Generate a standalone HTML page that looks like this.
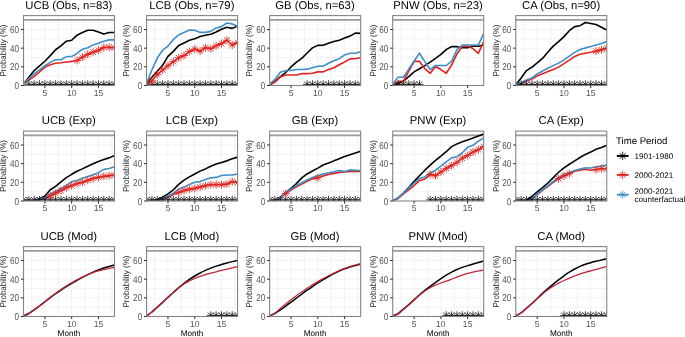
<!DOCTYPE html><html><head><meta charset="utf-8"><style>html,body{margin:0;padding:0;background:#fff;width:685px;height:337px;overflow:hidden}svg{display:block;will-change:transform;text-rendering:geometricPrecision}</style></head><body>
<svg width="685" height="337" viewBox="0 0 685 337" font-family="'Liberation Sans', sans-serif">
<rect width="685" height="337" fill="#fff"/>
<defs>
<clipPath id="c00"><rect x="23.5" y="15.6" width="91" height="69.9"/></clipPath>
<clipPath id="c01"><rect x="146.57" y="15.6" width="91" height="69.9"/></clipPath>
<clipPath id="c02"><rect x="269.64" y="15.6" width="91" height="69.9"/></clipPath>
<clipPath id="c03"><rect x="392.71" y="15.6" width="91" height="69.9"/></clipPath>
<clipPath id="c04"><rect x="515.78" y="15.6" width="91" height="69.9"/></clipPath>
<clipPath id="c10"><rect x="23.5" y="131.1" width="91" height="69.9"/></clipPath>
<clipPath id="c11"><rect x="146.57" y="131.1" width="91" height="69.9"/></clipPath>
<clipPath id="c12"><rect x="269.64" y="131.1" width="91" height="69.9"/></clipPath>
<clipPath id="c13"><rect x="392.71" y="131.1" width="91" height="69.9"/></clipPath>
<clipPath id="c14"><rect x="515.78" y="131.1" width="91" height="69.9"/></clipPath>
<clipPath id="c20"><rect x="23.5" y="246.6" width="91" height="69.9"/></clipPath>
<clipPath id="c21"><rect x="146.57" y="246.6" width="91" height="69.9"/></clipPath>
<clipPath id="c22"><rect x="269.64" y="246.6" width="91" height="69.9"/></clipPath>
<clipPath id="c23"><rect x="392.71" y="246.6" width="91" height="69.9"/></clipPath>
<clipPath id="c24"><rect x="515.78" y="246.6" width="91" height="69.9"/></clipPath>
</defs>
<path d="M23.5 76.17H114.5M23.5 66.83H114.5M23.5 57.5H114.5M23.5 48.17H114.5M23.5 38.84H114.5M23.5 29.5H114.5M23.5 20.17H114.5M31.53 15.6V85.5M44.91 15.6V85.5M58.29 15.6V85.5M71.68 15.6V85.5M85.06 15.6V85.5M98.44 15.6V85.5M111.82 15.6V85.5" stroke="#ebebeb" stroke-width="0.6" fill="none"/>
<path d="M23.5 19.95H114.5" stroke="#9c9c9c" stroke-width="1.8" fill="none"/>
<g clip-path="url(#c00)" fill="none" stroke-linejoin="round" stroke-linecap="butt">
<path d="M23.5 84.1 L28.85 77.29 L34.21 70.57 L39.56 65.9 L44.91 61.23 L50.26 55.63 L55.62 49.75 L60.97 45.83 L66.32 41.17 L71.68 40.23 L77.03 35.2 L82.38 32.49 L87.74 30.25 L93.09 30.25 L98.44 32.02 L103.79 34.08 L109.15 32.49 L114.5 32.49" stroke="#000000" stroke-width="1.6"/>
<path d="M23.5 84.1 L28.85 79.99 L34.21 76.35 L39.56 71.87 L44.91 67.11 L50.26 64.69 L55.62 63.29 L60.97 62.73 L66.32 61.98 L71.68 61.42 L77.03 60.49 L82.38 57.13 L87.74 54.33 L93.09 52.18 L98.44 50.22 L103.79 47.51 L109.15 47.23 L114.5 47.79" stroke="#e2231f" stroke-width="1.6"/>
<path d="M23.5 83.45 L28.85 78.69 L34.21 73.93 L39.56 69.82 L44.91 65.71 L50.26 62.35 L55.62 59.74 L60.97 59.74 L66.32 56.57 L71.68 56.57 L77.03 53.49 L82.38 49.29 L87.74 47.79 L93.09 44.9 L98.44 43.31 L103.79 41.17 L109.15 39.86 L114.5 39.86" stroke="#3f8ec8" stroke-width="1.6"/>
<path d="M24.75 84.4L32.95 84.4M28.85 80.3L28.85 88.5M25.95 81.5L31.75 87.3M25.95 87.3L31.75 81.5M30.11 84.4L38.31 84.4M34.21 80.3L34.21 88.5M31.31 81.5L37.11 87.3M31.31 87.3L37.11 81.5M35.46 84.4L43.66 84.4M39.56 80.3L39.56 88.5M36.66 81.5L42.46 87.3M36.66 87.3L42.46 81.5M40.81 84.4L49.01 84.4M44.91 80.3L44.91 88.5M42.01 81.5L47.81 87.3M42.01 87.3L47.81 81.5M46.16 84.4L54.36 84.4M50.26 80.3L50.26 88.5M47.37 81.5L53.16 87.3M47.37 87.3L53.16 81.5M51.52 84.4L59.72 84.4M55.62 80.3L55.62 88.5M52.72 81.5L58.52 87.3M52.72 87.3L58.52 81.5M56.87 84.4L65.07 84.4M60.97 80.3L60.97 88.5M58.07 81.5L63.87 87.3M58.07 87.3L63.87 81.5M62.22 84.4L70.42 84.4M66.32 80.3L66.32 88.5M63.42 81.5L69.22 87.3M63.42 87.3L69.22 81.5M67.58 84.4L75.78 84.4M71.68 80.3L71.68 88.5M68.78 81.5L74.58 87.3M68.78 87.3L74.58 81.5M72.93 84.4L81.13 84.4M77.03 80.3L77.03 88.5M74.13 81.5L79.93 87.3M74.13 87.3L79.93 81.5M78.28 84.4L86.48 84.4M82.38 80.3L82.38 88.5M79.48 81.5L85.28 87.3M79.48 87.3L85.28 81.5M83.64 84.4L91.84 84.4M87.74 80.3L87.74 88.5M84.84 81.5L90.63 87.3M84.84 87.3L90.63 81.5M88.99 84.4L97.19 84.4M93.09 80.3L93.09 88.5M90.19 81.5L95.99 87.3M90.19 87.3L95.99 81.5M94.34 84.4L102.54 84.4M98.44 80.3L98.44 88.5M95.54 81.5L101.34 87.3M95.54 87.3L101.34 81.5M99.69 84.4L107.89 84.4M103.79 80.3L103.79 88.5M100.89 81.5L106.69 87.3M100.89 87.3L106.69 81.5M105.05 84.4L113.25 84.4M109.15 80.3L109.15 88.5M106.25 81.5L112.05 87.3M106.25 87.3L112.05 81.5M110.4 84.4L118.6 84.4M114.5 80.3L114.5 88.5M111.6 81.5L117.4 87.3M111.6 87.3L117.4 81.5" stroke="#000" stroke-width="0.75" stroke-opacity="1"/>
<path d="M73.03 60.49L81.03 60.49M77.03 56.49L77.03 64.49M74.2 57.66L79.86 63.32M74.2 63.32L79.86 57.66M78.38 57.13L86.38 57.13M82.38 53.13L82.38 61.13M79.55 54.3L85.21 59.96M79.55 59.96L85.21 54.3M83.74 54.33L91.74 54.33M87.74 50.33L87.74 58.33M84.91 51.5L90.56 57.16M84.91 57.16L90.56 51.5M89.09 52.18L97.09 52.18M93.09 48.18L93.09 56.18M90.26 49.35L95.92 55.01M90.26 55.01L95.92 49.35M94.44 50.22L102.44 50.22M98.44 46.22L98.44 54.22M95.61 47.39L101.27 53.05M95.61 53.05L101.27 47.39M99.79 47.51L107.79 47.51M103.79 43.51L103.79 51.51M100.97 44.69L106.62 50.34M100.97 50.34L106.62 44.69M105.15 47.23L113.15 47.23M109.15 43.23L109.15 51.23M106.32 44.41L111.98 50.06M106.32 50.06L111.98 44.41M110.5 47.79L118.5 47.79M114.5 43.79L114.5 51.79M111.67 44.97L117.33 50.62M111.67 50.62L117.33 44.97" stroke="#e2231f" stroke-width="0.9" stroke-opacity="0.95"/>
</g>
<rect x="23.5" y="15.6" width="91" height="69.9" fill="none" stroke="#858585" stroke-width="1.1"/>
<text transform="translate(19.1 89.15) scale(0.95 1.15)" font-size="8.6" fill="#555555" text-anchor="end">0</text>
<text transform="translate(19.1 70.48) scale(0.95 1.15)" font-size="8.6" fill="#555555" text-anchor="end">20</text>
<text transform="translate(19.1 51.82) scale(0.95 1.15)" font-size="8.6" fill="#555555" text-anchor="end">40</text>
<text transform="translate(19.1 33.15) scale(0.95 1.15)" font-size="8.6" fill="#555555" text-anchor="end">60</text>
<text x="44.91" y="95.9" font-size="8.6" fill="#555555" text-anchor="middle">5</text>
<text x="71.68" y="95.9" font-size="8.6" fill="#555555" text-anchor="middle">10</text>
<text x="98.44" y="95.9" font-size="8.6" fill="#555555" text-anchor="middle">15</text>
<path d="M20.9 85.5H23.5M20.9 66.83H23.5M20.9 48.17H23.5M20.9 29.5H23.5M44.91 85.5V88.1M71.68 85.5V88.1M98.44 85.5V88.1" stroke="#2b2b2b" stroke-width="1" fill="none"/>
<text transform="translate(6.3 50.55) rotate(-90) scale(0.94 1)" font-size="8.5" fill="#1a1a1a" text-anchor="middle">Probability (%)</text>
<text x="68.8" y="8.6" font-size="11.3" fill="#000" text-anchor="middle">UCB (Obs, n=83)</text>
<path d="M146.57 76.17H237.57M146.57 66.83H237.57M146.57 57.5H237.57M146.57 48.17H237.57M146.57 38.84H237.57M146.57 29.5H237.57M146.57 20.17H237.57M154.6 15.6V85.5M167.98 15.6V85.5M181.36 15.6V85.5M194.75 15.6V85.5M208.13 15.6V85.5M221.51 15.6V85.5M234.89 15.6V85.5" stroke="#ebebeb" stroke-width="0.6" fill="none"/>
<path d="M146.57 19.95H237.57" stroke="#9c9c9c" stroke-width="1.8" fill="none"/>
<g clip-path="url(#c01)" fill="none" stroke-linejoin="round" stroke-linecap="butt">
<path d="M146.57 84.1 L151.92 77.29 L157.28 71.31 L162.63 65.15 L167.98 56.38 L173.33 51.34 L178.69 45.55 L184.04 42.94 L189.39 40.23 L194.75 38.84 L200.1 36.6 L205.45 35.2 L210.81 34.17 L216.16 32.02 L221.51 29.32 L226.86 27.26 L232.22 28.38 L237.57 25.96" stroke="#000000" stroke-width="1.6"/>
<path d="M146.57 84.85 L151.92 80.74 L157.28 74.58 L162.63 69.82 L167.98 65.71 L173.33 61.7 L178.69 57.78 L184.04 55.54 L189.39 51.53 L194.75 49.1 L200.1 51.15 L205.45 47.79 L210.81 48.73 L216.16 45.83 L221.51 43.59 L226.86 40.23 L232.22 44.99 L237.57 42.57" stroke="#e2231f" stroke-width="1.6"/>
<path d="M146.57 83.45 L151.92 69.82 L157.28 58.06 L162.63 50.22 L167.98 46.11 L173.33 39.49 L178.69 34.82 L184.04 32.4 L189.39 29.97 L194.75 30.25 L200.1 32.4 L205.45 32.4 L210.81 31.37 L216.16 27.92 L221.51 26.61 L226.86 22.97 L232.22 23.9 L237.57 26.24" stroke="#3f8ec8" stroke-width="1.6"/>
<path d="M147.82 84.4L156.02 84.4M151.92 80.3L151.92 88.5M149.02 81.5L154.82 87.3M149.02 87.3L154.82 81.5M153.18 84.4L161.38 84.4M157.28 80.3L157.28 88.5M154.38 81.5L160.18 87.3M154.38 87.3L160.18 81.5M158.53 84.4L166.73 84.4M162.63 80.3L162.63 88.5M159.73 81.5L165.53 87.3M159.73 87.3L165.53 81.5M163.88 84.4L172.08 84.4M167.98 80.3L167.98 88.5M165.08 81.5L170.88 87.3M165.08 87.3L170.88 81.5M169.23 84.4L177.43 84.4M173.33 80.3L173.33 88.5M170.44 81.5L176.23 87.3M170.44 87.3L176.23 81.5M174.59 84.4L182.79 84.4M178.69 80.3L178.69 88.5M175.79 81.5L181.59 87.3M175.79 87.3L181.59 81.5M179.94 84.4L188.14 84.4M184.04 80.3L184.04 88.5M181.14 81.5L186.94 87.3M181.14 87.3L186.94 81.5M185.29 84.4L193.49 84.4M189.39 80.3L189.39 88.5M186.49 81.5L192.29 87.3M186.49 87.3L192.29 81.5M190.65 84.4L198.85 84.4M194.75 80.3L194.75 88.5M191.85 81.5L197.65 87.3M191.85 87.3L197.65 81.5M196 84.4L204.2 84.4M200.1 80.3L200.1 88.5M197.2 81.5L203 87.3M197.2 87.3L203 81.5M201.35 84.4L209.55 84.4M205.45 80.3L205.45 88.5M202.55 81.5L208.35 87.3M202.55 87.3L208.35 81.5M206.71 84.4L214.91 84.4M210.81 80.3L210.81 88.5M207.91 81.5L213.7 87.3M207.91 87.3L213.7 81.5M212.06 84.4L220.26 84.4M216.16 80.3L216.16 88.5M213.26 81.5L219.06 87.3M213.26 87.3L219.06 81.5M217.41 84.4L225.61 84.4M221.51 80.3L221.51 88.5M218.61 81.5L224.41 87.3M218.61 87.3L224.41 81.5M222.76 84.4L230.96 84.4M226.86 80.3L226.86 88.5M223.96 81.5L229.76 87.3M223.96 87.3L229.76 81.5M228.12 84.4L236.32 84.4M232.22 80.3L232.22 88.5M229.32 81.5L235.12 87.3M229.32 87.3L235.12 81.5M233.47 84.4L241.67 84.4M237.57 80.3L237.57 88.5M234.67 81.5L240.47 87.3M234.67 87.3L240.47 81.5" stroke="#000" stroke-width="0.75" stroke-opacity="1"/>
<path d="M147.92 80.74L155.92 80.74M151.92 76.74L151.92 84.74M149.09 77.91L154.75 83.57M149.09 83.57L154.75 77.91M153.28 74.58L161.28 74.58M157.28 70.58L157.28 78.58M154.45 71.75L160.1 77.41M154.45 77.41L160.1 71.75M158.63 69.82L166.63 69.82M162.63 65.82L162.63 73.82M159.8 66.99L165.46 72.65M159.8 72.65L165.46 66.99M163.98 65.71L171.98 65.71M167.98 61.71L167.98 69.71M165.15 62.89L170.81 68.54M165.15 68.54L170.81 62.89M169.33 61.7L177.33 61.7M173.33 57.7L173.33 65.7M170.51 58.87L176.16 64.53M170.51 64.53L176.16 58.87M174.69 57.78L182.69 57.78M178.69 53.78L178.69 61.78M175.86 54.95L181.52 60.61M175.86 60.61L181.52 54.95M180.04 55.54L188.04 55.54M184.04 51.54L184.04 59.54M181.21 52.71L186.87 58.37M181.21 58.37L186.87 52.71M185.39 51.53L193.39 51.53M189.39 47.53L189.39 55.53M186.57 48.7L192.22 54.36M186.57 54.36L192.22 48.7M190.75 49.1L198.75 49.1M194.75 45.1L194.75 53.1M191.92 46.27L197.57 51.93M191.92 51.93L197.57 46.27M196.1 51.15L204.1 51.15M200.1 47.15L200.1 55.15M197.27 48.33L202.93 53.98M197.27 53.98L202.93 48.33M201.45 47.79L209.45 47.79M205.45 43.79L205.45 51.79M202.62 44.97L208.28 50.62M202.62 50.62L208.28 44.97M206.81 48.73L214.81 48.73M210.81 44.73L210.81 52.73M207.98 45.9L213.63 51.56M207.98 51.56L213.63 45.9M212.16 45.83L220.16 45.83M216.16 41.83L216.16 49.83M213.33 43.01L218.99 48.66M213.33 48.66L218.99 43.01M217.51 43.59L225.51 43.59M221.51 39.59L221.51 47.59M218.68 40.77L224.34 46.42M218.68 46.42L224.34 40.77M222.86 40.23L230.86 40.23M226.86 36.23L226.86 44.23M224.04 37.41L229.69 43.06M224.04 43.06L229.69 37.41M228.22 44.99L236.22 44.99M232.22 40.99L232.22 48.99M229.39 42.17L235.05 47.82M229.39 47.82L235.05 42.17M233.57 42.57L241.57 42.57M237.57 38.57L237.57 46.57M234.74 39.74L240.4 45.4M234.74 45.4L240.4 39.74" stroke="#e2231f" stroke-width="0.9" stroke-opacity="0.95"/>
</g>
<rect x="146.57" y="15.6" width="91" height="69.9" fill="none" stroke="#858585" stroke-width="1.1"/>
<text transform="translate(142.17 89.15) scale(0.95 1.15)" font-size="8.6" fill="#555555" text-anchor="end">0</text>
<text transform="translate(142.17 70.48) scale(0.95 1.15)" font-size="8.6" fill="#555555" text-anchor="end">20</text>
<text transform="translate(142.17 51.82) scale(0.95 1.15)" font-size="8.6" fill="#555555" text-anchor="end">40</text>
<text transform="translate(142.17 33.15) scale(0.95 1.15)" font-size="8.6" fill="#555555" text-anchor="end">60</text>
<text x="167.98" y="95.9" font-size="8.6" fill="#555555" text-anchor="middle">5</text>
<text x="194.75" y="95.9" font-size="8.6" fill="#555555" text-anchor="middle">10</text>
<text x="221.51" y="95.9" font-size="8.6" fill="#555555" text-anchor="middle">15</text>
<path d="M143.97 85.5H146.57M143.97 66.83H146.57M143.97 48.17H146.57M143.97 29.5H146.57M167.98 85.5V88.1M194.75 85.5V88.1M221.51 85.5V88.1" stroke="#2b2b2b" stroke-width="1" fill="none"/>
<text transform="translate(129.37 50.55) rotate(-90) scale(0.94 1)" font-size="8.5" fill="#1a1a1a" text-anchor="middle">Probability (%)</text>
<text x="191.87" y="8.6" font-size="11.3" fill="#000" text-anchor="middle">LCB (Obs, n=79)</text>
<path d="M269.64 76.17H360.64M269.64 66.83H360.64M269.64 57.5H360.64M269.64 48.17H360.64M269.64 38.84H360.64M269.64 29.5H360.64M269.64 20.17H360.64M277.67 15.6V85.5M291.05 15.6V85.5M304.43 15.6V85.5M317.82 15.6V85.5M331.2 15.6V85.5M344.58 15.6V85.5M357.96 15.6V85.5" stroke="#ebebeb" stroke-width="0.6" fill="none"/>
<path d="M269.64 19.95H360.64" stroke="#9c9c9c" stroke-width="1.8" fill="none"/>
<g clip-path="url(#c02)" fill="none" stroke-linejoin="round" stroke-linecap="butt">
<path d="M269.64 85.03 L274.99 81.02 L280.35 76.63 L285.7 72.53 L291.05 66.93 L296.4 62.17 L301.76 58.43 L307.11 53.02 L312.46 47.89 L317.82 45.37 L323.17 45.27 L328.52 43.31 L333.88 41.54 L339.23 40.23 L344.58 37.9 L349.93 36.13 L355.29 33.14 L360.64 33.42" stroke="#000000" stroke-width="1.6"/>
<path d="M269.64 85.13 L274.99 82.14 L280.35 76.91 L285.7 75.05 L291.05 75.05 L296.4 75.05 L301.76 73.65 L307.11 73.65 L312.46 73.27 L317.82 71.87 L323.17 71.87 L328.52 69.54 L333.88 67.77 L339.23 64.69 L344.58 61.98 L349.93 58.9 L355.29 58.81 L360.64 57.41" stroke="#e2231f" stroke-width="1.6"/>
<path d="M269.64 84.1 L274.99 79.34 L280.35 72.25 L285.7 70.47 L291.05 70.47 L296.4 69.54 L301.76 69.54 L307.11 69.17 L312.46 67.77 L317.82 66.27 L323.17 66.09 L328.52 63.19 L333.88 60.77 L339.23 58.71 L344.58 54.98 L349.93 53.21 L355.29 53.21 L360.64 51.81" stroke="#3f8ec8" stroke-width="1.6"/>
<path d="M303.01 84.4L311.21 84.4M307.11 80.3L307.11 88.5M304.21 81.5L310.01 87.3M304.21 87.3L310.01 81.5M308.36 84.4L316.56 84.4M312.46 80.3L312.46 88.5M309.56 81.5L315.36 87.3M309.56 87.3L315.36 81.5M313.72 84.4L321.92 84.4M317.82 80.3L317.82 88.5M314.92 81.5L320.72 87.3M314.92 87.3L320.72 81.5M319.07 84.4L327.27 84.4M323.17 80.3L323.17 88.5M320.27 81.5L326.07 87.3M320.27 87.3L326.07 81.5M324.42 84.4L332.62 84.4M328.52 80.3L328.52 88.5M325.62 81.5L331.42 87.3M325.62 87.3L331.42 81.5M329.78 84.4L337.98 84.4M333.88 80.3L333.88 88.5M330.98 81.5L336.77 87.3M330.98 87.3L336.77 81.5M335.13 84.4L343.33 84.4M339.23 80.3L339.23 88.5M336.33 81.5L342.13 87.3M336.33 87.3L342.13 81.5M340.48 84.4L348.68 84.4M344.58 80.3L344.58 88.5M341.68 81.5L347.48 87.3M341.68 87.3L347.48 81.5M345.83 84.4L354.03 84.4M349.93 80.3L349.93 88.5M347.03 81.5L352.83 87.3M347.03 87.3L352.83 81.5M351.19 84.4L359.39 84.4M355.29 80.3L355.29 88.5M352.39 81.5L358.19 87.3M352.39 87.3L358.19 81.5M356.54 84.4L364.74 84.4M360.64 80.3L360.64 88.5M357.74 81.5L363.54 87.3M357.74 87.3L363.54 81.5" stroke="#000" stroke-width="0.75" stroke-opacity="1"/>
</g>
<rect x="269.64" y="15.6" width="91" height="69.9" fill="none" stroke="#858585" stroke-width="1.1"/>
<text transform="translate(265.24 89.15) scale(0.95 1.15)" font-size="8.6" fill="#555555" text-anchor="end">0</text>
<text transform="translate(265.24 70.48) scale(0.95 1.15)" font-size="8.6" fill="#555555" text-anchor="end">20</text>
<text transform="translate(265.24 51.82) scale(0.95 1.15)" font-size="8.6" fill="#555555" text-anchor="end">40</text>
<text transform="translate(265.24 33.15) scale(0.95 1.15)" font-size="8.6" fill="#555555" text-anchor="end">60</text>
<text x="291.05" y="95.9" font-size="8.6" fill="#555555" text-anchor="middle">5</text>
<text x="317.82" y="95.9" font-size="8.6" fill="#555555" text-anchor="middle">10</text>
<text x="344.58" y="95.9" font-size="8.6" fill="#555555" text-anchor="middle">15</text>
<path d="M267.04 85.5H269.64M267.04 66.83H269.64M267.04 48.17H269.64M267.04 29.5H269.64M291.05 85.5V88.1M317.82 85.5V88.1M344.58 85.5V88.1" stroke="#2b2b2b" stroke-width="1" fill="none"/>
<text transform="translate(252.44 50.55) rotate(-90) scale(0.94 1)" font-size="8.5" fill="#1a1a1a" text-anchor="middle">Probability (%)</text>
<text x="314.94" y="8.6" font-size="11.3" fill="#000" text-anchor="middle">GB (Obs, n=63)</text>
<path d="M392.71 76.17H483.71M392.71 66.83H483.71M392.71 57.5H483.71M392.71 48.17H483.71M392.71 38.84H483.71M392.71 29.5H483.71M392.71 20.17H483.71M400.74 15.6V85.5M414.12 15.6V85.5M427.5 15.6V85.5M440.89 15.6V85.5M454.27 15.6V85.5M467.65 15.6V85.5M481.03 15.6V85.5" stroke="#ebebeb" stroke-width="0.6" fill="none"/>
<path d="M392.71 19.95H483.71" stroke="#9c9c9c" stroke-width="1.8" fill="none"/>
<g clip-path="url(#c03)" fill="none" stroke-linejoin="round" stroke-linecap="butt">
<path d="M392.71 85.22 L398.06 83.45 L403.42 81.02 L408.77 76.63 L414.12 71.87 L419.47 68.7 L424.83 65.62 L430.18 62.17 L435.53 58.43 L440.89 54.33 L446.24 49.57 L451.59 46.67 L456.95 46.67 L462.3 47.7 L467.65 47.7 L473 46.3 L478.36 46.3 L483.71 44.99" stroke="#000000" stroke-width="1.6"/>
<path d="M392.71 85.13 L398.06 81.39 L403.42 81.39 L408.77 71.22 L414.12 61.42 L419.47 61.33 L424.83 68.7 L430.18 73.27 L435.53 66.46 L440.89 69.54 L446.24 73.27 L451.59 65.06 L456.95 53.95 L462.3 46.3 L467.65 46.02 L473 48.63 L478.36 53.3 L483.71 41.63" stroke="#e2231f" stroke-width="1.6"/>
<path d="M392.71 84.1 L398.06 77.29 L403.42 77.29 L408.77 69.17 L414.12 60.95 L419.47 53.21 L424.83 61.61 L430.18 69.54 L435.53 65.43 L440.89 65.43 L446.24 65.43 L451.59 61.42 L456.95 49.57 L462.3 44.99 L467.65 44.99 L473 44.99 L478.36 44.99 L483.71 33.42" stroke="#3f8ec8" stroke-width="1.6"/>
<path d="M393.96 84.4L402.16 84.4M398.06 80.3L398.06 88.5M395.16 81.5L400.96 87.3M395.16 87.3L400.96 81.5M399.32 84.4L407.52 84.4M403.42 80.3L403.42 88.5M400.52 81.5L406.32 87.3M400.52 87.3L406.32 81.5M404.67 84.4L412.87 84.4M408.77 80.3L408.77 88.5M405.87 81.5L411.67 87.3M405.87 87.3L411.67 81.5M410.02 84.4L418.22 84.4M414.12 80.3L414.12 88.5M411.22 81.5L417.02 87.3M411.22 87.3L417.02 81.5M415.37 84.4L423.57 84.4M419.47 80.3L419.47 88.5M416.58 81.5L422.37 87.3M416.58 87.3L422.37 81.5" stroke="#000" stroke-width="0.75" stroke-opacity="1"/>
</g>
<rect x="392.71" y="15.6" width="91" height="69.9" fill="none" stroke="#858585" stroke-width="1.1"/>
<text transform="translate(388.31 89.15) scale(0.95 1.15)" font-size="8.6" fill="#555555" text-anchor="end">0</text>
<text transform="translate(388.31 70.48) scale(0.95 1.15)" font-size="8.6" fill="#555555" text-anchor="end">20</text>
<text transform="translate(388.31 51.82) scale(0.95 1.15)" font-size="8.6" fill="#555555" text-anchor="end">40</text>
<text transform="translate(388.31 33.15) scale(0.95 1.15)" font-size="8.6" fill="#555555" text-anchor="end">60</text>
<text x="414.12" y="95.9" font-size="8.6" fill="#555555" text-anchor="middle">5</text>
<text x="440.89" y="95.9" font-size="8.6" fill="#555555" text-anchor="middle">10</text>
<text x="467.65" y="95.9" font-size="8.6" fill="#555555" text-anchor="middle">15</text>
<path d="M390.11 85.5H392.71M390.11 66.83H392.71M390.11 48.17H392.71M390.11 29.5H392.71M414.12 85.5V88.1M440.89 85.5V88.1M467.65 85.5V88.1" stroke="#2b2b2b" stroke-width="1" fill="none"/>
<text transform="translate(375.51 50.55) rotate(-90) scale(0.94 1)" font-size="8.5" fill="#1a1a1a" text-anchor="middle">Probability (%)</text>
<text x="438.01" y="8.6" font-size="11.3" fill="#000" text-anchor="middle">PNW (Obs, n=23)</text>
<path d="M515.78 76.17H606.78M515.78 66.83H606.78M515.78 57.5H606.78M515.78 48.17H606.78M515.78 38.84H606.78M515.78 29.5H606.78M515.78 20.17H606.78M523.81 15.6V85.5M537.19 15.6V85.5M550.57 15.6V85.5M563.96 15.6V85.5M577.34 15.6V85.5M590.72 15.6V85.5M604.1 15.6V85.5" stroke="#ebebeb" stroke-width="0.6" fill="none"/>
<path d="M515.78 19.95H606.78" stroke="#9c9c9c" stroke-width="1.8" fill="none"/>
<g clip-path="url(#c04)" fill="none" stroke-linejoin="round" stroke-linecap="butt">
<path d="M515.78 84.85 L521.13 78.03 L526.49 70.57 L531.84 67.3 L537.19 62.82 L542.54 58.43 L547.9 52.09 L553.25 46.11 L558.6 41.63 L563.96 36.6 L569.31 30.72 L574.66 26.61 L580.02 25.68 L585.37 22.5 L590.72 23.44 L596.07 24.56 L601.43 27.26 L606.78 29.97" stroke="#000000" stroke-width="1.6"/>
<path d="M515.78 85.13 L521.13 83.73 L526.49 81.02 L531.84 79.06 L537.19 75.98 L542.54 73.65 L547.9 71.5 L553.25 69.54 L558.6 67.11 L563.96 63.66 L569.31 60.11 L574.66 56.38 L580.02 54.33 L585.37 53.21 L590.72 52.27 L596.07 51.15 L601.43 49.75 L606.78 48.35" stroke="#e2231f" stroke-width="1.6"/>
<path d="M515.78 84.57 L521.13 82.79 L526.49 79.99 L531.84 78.03 L537.19 73.93 L542.54 70.94 L547.9 68.23 L553.25 65.62 L558.6 63.1 L563.96 59.83 L569.31 56.1 L574.66 52.37 L580.02 49.57 L585.37 47.89 L590.72 46.58 L596.07 44.99 L601.43 43.59 L606.78 41.54" stroke="#3f8ec8" stroke-width="1.6"/>
<path d="M517.03 84.4L525.23 84.4M521.13 80.3L521.13 88.5M518.23 81.5L524.03 87.3M518.23 87.3L524.03 81.5M522.39 84.4L530.59 84.4M526.49 80.3L526.49 88.5M523.59 81.5L529.39 87.3M523.59 87.3L529.39 81.5M527.74 84.4L535.94 84.4M531.84 80.3L531.84 88.5M528.94 81.5L534.74 87.3M528.94 87.3L534.74 81.5M533.09 84.4L541.29 84.4M537.19 80.3L537.19 88.5M534.29 81.5L540.09 87.3M534.29 87.3L540.09 81.5M538.44 84.4L546.64 84.4M542.54 80.3L542.54 88.5M539.65 81.5L545.44 87.3M539.65 87.3L545.44 81.5M543.8 84.4L552 84.4M547.9 80.3L547.9 88.5M545 81.5L550.8 87.3M545 87.3L550.8 81.5M549.15 84.4L557.35 84.4M553.25 80.3L553.25 88.5M550.35 81.5L556.15 87.3M550.35 87.3L556.15 81.5M554.5 84.4L562.7 84.4M558.6 80.3L558.6 88.5M555.7 81.5L561.5 87.3M555.7 87.3L561.5 81.5M559.86 84.4L568.06 84.4M563.96 80.3L563.96 88.5M561.06 81.5L566.86 87.3M561.06 87.3L566.86 81.5M565.21 84.4L573.41 84.4M569.31 80.3L569.31 88.5M566.41 81.5L572.21 87.3M566.41 87.3L572.21 81.5M570.56 84.4L578.76 84.4M574.66 80.3L574.66 88.5M571.76 81.5L577.56 87.3M571.76 87.3L577.56 81.5M575.92 84.4L584.12 84.4M580.02 80.3L580.02 88.5M577.12 81.5L582.91 87.3M577.12 87.3L582.91 81.5M581.27 84.4L589.47 84.4M585.37 80.3L585.37 88.5M582.47 81.5L588.27 87.3M582.47 87.3L588.27 81.5M586.62 84.4L594.82 84.4M590.72 80.3L590.72 88.5M587.82 81.5L593.62 87.3M587.82 87.3L593.62 81.5M591.97 84.4L600.17 84.4M596.07 80.3L596.07 88.5M593.17 81.5L598.97 87.3M593.17 87.3L598.97 81.5M597.33 84.4L605.53 84.4M601.43 80.3L601.43 88.5M598.53 81.5L604.33 87.3M598.53 87.3L604.33 81.5M602.68 84.4L610.88 84.4M606.78 80.3L606.78 88.5M603.88 81.5L609.68 87.3M603.88 87.3L609.68 81.5" stroke="#000" stroke-width="0.75" stroke-opacity="1"/>
<path d="M592.07 51.15L600.07 51.15M596.07 47.15L596.07 55.15M593.25 48.33L598.9 53.98M593.25 53.98L598.9 48.33M597.43 49.75L605.43 49.75M601.43 45.75L601.43 53.75M598.6 46.93L604.26 52.58M598.6 52.58L604.26 46.93M602.78 48.35L610.78 48.35M606.78 44.35L606.78 52.35M603.95 45.53L609.61 51.18M603.95 51.18L609.61 45.53" stroke="#e2231f" stroke-width="0.9" stroke-opacity="0.95"/>
</g>
<rect x="515.78" y="15.6" width="91" height="69.9" fill="none" stroke="#858585" stroke-width="1.1"/>
<text transform="translate(511.38 89.15) scale(0.95 1.15)" font-size="8.6" fill="#555555" text-anchor="end">0</text>
<text transform="translate(511.38 70.48) scale(0.95 1.15)" font-size="8.6" fill="#555555" text-anchor="end">20</text>
<text transform="translate(511.38 51.82) scale(0.95 1.15)" font-size="8.6" fill="#555555" text-anchor="end">40</text>
<text transform="translate(511.38 33.15) scale(0.95 1.15)" font-size="8.6" fill="#555555" text-anchor="end">60</text>
<text x="537.19" y="95.9" font-size="8.6" fill="#555555" text-anchor="middle">5</text>
<text x="563.96" y="95.9" font-size="8.6" fill="#555555" text-anchor="middle">10</text>
<text x="590.72" y="95.9" font-size="8.6" fill="#555555" text-anchor="middle">15</text>
<path d="M513.18 85.5H515.78M513.18 66.83H515.78M513.18 48.17H515.78M513.18 29.5H515.78M537.19 85.5V88.1M563.96 85.5V88.1M590.72 85.5V88.1" stroke="#2b2b2b" stroke-width="1" fill="none"/>
<text transform="translate(498.58 50.55) rotate(-90) scale(0.94 1)" font-size="8.5" fill="#1a1a1a" text-anchor="middle">Probability (%)</text>
<text x="561.08" y="8.6" font-size="11.3" fill="#000" text-anchor="middle">CA (Obs, n=90)</text>
<path d="M23.5 191.67H114.5M23.5 182.33H114.5M23.5 173H114.5M23.5 163.67H114.5M23.5 154.34H114.5M23.5 145H114.5M23.5 135.67H114.5M31.53 131.1V201M44.91 131.1V201M58.29 131.1V201M71.68 131.1V201M85.06 131.1V201M98.44 131.1V201M111.82 131.1V201" stroke="#ebebeb" stroke-width="0.6" fill="none"/>
<path d="M23.5 135.45H114.5" stroke="#9c9c9c" stroke-width="1.8" fill="none"/>
<g clip-path="url(#c10)" fill="none" stroke-linejoin="round" stroke-linecap="butt">
<path d="M23.5 201 L28.85 201 L34.21 200.53 L39.56 198.67 L44.91 195.96 L50.26 189.8 L55.62 186.44 L60.97 181.87 L66.32 177.67 L71.68 174.31 L77.03 171.32 L82.38 168.89 L87.74 166.19 L93.09 163.76 L98.44 161.52 L103.79 159.56 L109.15 157.88 L114.5 155.45" stroke="#000000" stroke-width="1.6"/>
<path d="M23.5 201 L28.85 201 L34.21 200.81 L39.56 199.79 L44.91 198.29 L50.26 195.96 L55.62 193.25 L60.97 190.45 L66.32 187.75 L71.68 185.69 L77.03 183.64 L82.38 182.33 L87.74 180.28 L93.09 178.6 L98.44 177.29 L103.79 176.36 L109.15 175.71 L114.5 175.05" stroke="#e2231f" stroke-width="1.6"/>
<path d="M23.5 201 L28.85 201 L34.21 200.72 L39.56 199.32 L44.91 197.27 L50.26 193.91 L55.62 191.48 L60.97 188.4 L66.32 185.69 L71.68 181.68 L77.03 180.47 L82.38 178.23 L87.74 176.45 L93.09 174.68 L98.44 172.63 L103.79 169.36 L109.15 168.52 L114.5 166.75" stroke="#3f8ec8" stroke-width="1.6"/>
<path d="M19.4 199.9L27.6 199.9M23.5 195.8L23.5 204M20.6 197L26.4 202.8M20.6 202.8L26.4 197M24.75 199.9L32.95 199.9M28.85 195.8L28.85 204M25.95 197L31.75 202.8M25.95 202.8L31.75 197M30.11 199.9L38.31 199.9M34.21 195.8L34.21 204M31.31 197L37.11 202.8M31.31 202.8L37.11 197M35.46 199.9L43.66 199.9M39.56 195.8L39.56 204M36.66 197L42.46 202.8M36.66 202.8L42.46 197M40.81 199.9L49.01 199.9M44.91 195.8L44.91 204M42.01 197L47.81 202.8M42.01 202.8L47.81 197M46.16 199.9L54.36 199.9M50.26 195.8L50.26 204M47.37 197L53.16 202.8M47.37 202.8L53.16 197M51.52 199.9L59.72 199.9M55.62 195.8L55.62 204M52.72 197L58.52 202.8M52.72 202.8L58.52 197M56.87 199.9L65.07 199.9M60.97 195.8L60.97 204M58.07 197L63.87 202.8M58.07 202.8L63.87 197M62.22 199.9L70.42 199.9M66.32 195.8L66.32 204M63.42 197L69.22 202.8M63.42 202.8L69.22 197M67.58 199.9L75.78 199.9M71.68 195.8L71.68 204M68.78 197L74.58 202.8M68.78 202.8L74.58 197M72.93 199.9L81.13 199.9M77.03 195.8L77.03 204M74.13 197L79.93 202.8M74.13 202.8L79.93 197M78.28 199.9L86.48 199.9M82.38 195.8L82.38 204M79.48 197L85.28 202.8M79.48 202.8L85.28 197M83.64 199.9L91.84 199.9M87.74 195.8L87.74 204M84.84 197L90.63 202.8M84.84 202.8L90.63 197M88.99 199.9L97.19 199.9M93.09 195.8L93.09 204M90.19 197L95.99 202.8M90.19 202.8L95.99 197M94.34 199.9L102.54 199.9M98.44 195.8L98.44 204M95.54 197L101.34 202.8M95.54 202.8L101.34 197M99.69 199.9L107.89 199.9M103.79 195.8L103.79 204M100.89 197L106.69 202.8M100.89 202.8L106.69 197M105.05 199.9L113.25 199.9M109.15 195.8L109.15 204M106.25 197L112.05 202.8M106.25 202.8L112.05 197M110.4 199.9L118.6 199.9M114.5 195.8L114.5 204M111.6 197L117.4 202.8M111.6 202.8L117.4 197" stroke="#000" stroke-width="0.75" stroke-opacity="1"/>
<path d="M46.26 195.96L54.26 195.96M50.26 191.96L50.26 199.96M47.44 193.13L53.09 198.79M47.44 198.79L53.09 193.13M51.62 193.25L59.62 193.25M55.62 189.25L55.62 197.25M52.79 190.43L58.45 196.08M52.79 196.08L58.45 190.43M56.97 190.45L64.97 190.45M60.97 186.45L60.97 194.45M58.14 187.63L63.8 193.28M58.14 193.28L63.8 187.63M62.32 187.75L70.32 187.75M66.32 183.75L66.32 191.75M63.5 184.92L69.15 190.58M63.5 190.58L69.15 184.92M67.68 185.69L75.68 185.69M71.68 181.69L71.68 189.69M68.85 182.87L74.5 188.52M68.85 188.52L74.5 182.87M73.03 183.64L81.03 183.64M77.03 179.64L77.03 187.64M74.2 180.81L79.86 186.47M74.2 186.47L79.86 180.81M78.38 182.33L86.38 182.33M82.38 178.33L82.38 186.33M79.55 179.51L85.21 185.16M79.55 185.16L85.21 179.51M83.74 180.28L91.74 180.28M87.74 176.28L87.74 184.28M84.91 177.45L90.56 183.11M84.91 183.11L90.56 177.45M89.09 178.6L97.09 178.6M93.09 174.6L93.09 182.6M90.26 175.77L95.92 181.43M90.26 181.43L95.92 175.77M94.44 177.29L102.44 177.29M98.44 173.29L98.44 181.29M95.61 174.47L101.27 180.12M95.61 180.12L101.27 174.47M99.79 176.36L107.79 176.36M103.79 172.36L103.79 180.36M100.97 173.53L106.62 179.19M100.97 179.19L106.62 173.53M105.15 175.71L113.15 175.71M109.15 171.71L109.15 179.71M106.32 172.88L111.98 178.54M106.32 178.54L111.98 172.88M110.5 175.05L118.5 175.05M114.5 171.05L114.5 179.05M111.67 172.23L117.33 177.88M111.67 177.88L117.33 172.23" stroke="#e2231f" stroke-width="0.9" stroke-opacity="0.95"/>
</g>
<rect x="23.5" y="131.1" width="91" height="69.9" fill="none" stroke="#858585" stroke-width="1.1"/>
<text transform="translate(19.1 204.65) scale(0.95 1.15)" font-size="8.6" fill="#555555" text-anchor="end">0</text>
<text transform="translate(19.1 185.98) scale(0.95 1.15)" font-size="8.6" fill="#555555" text-anchor="end">20</text>
<text transform="translate(19.1 167.32) scale(0.95 1.15)" font-size="8.6" fill="#555555" text-anchor="end">40</text>
<text transform="translate(19.1 148.65) scale(0.95 1.15)" font-size="8.6" fill="#555555" text-anchor="end">60</text>
<text x="44.91" y="211.4" font-size="8.6" fill="#555555" text-anchor="middle">5</text>
<text x="71.68" y="211.4" font-size="8.6" fill="#555555" text-anchor="middle">10</text>
<text x="98.44" y="211.4" font-size="8.6" fill="#555555" text-anchor="middle">15</text>
<path d="M20.9 201H23.5M20.9 182.33H23.5M20.9 163.67H23.5M20.9 145H23.5M44.91 201V203.6M71.68 201V203.6M98.44 201V203.6" stroke="#2b2b2b" stroke-width="1" fill="none"/>
<text transform="translate(6.3 166.05) rotate(-90) scale(0.94 1)" font-size="8.5" fill="#1a1a1a" text-anchor="middle">Probability (%)</text>
<text x="68.8" y="124.1" font-size="11.3" fill="#000" text-anchor="middle">UCB (Exp)</text>
<path d="M146.57 191.67H237.57M146.57 182.33H237.57M146.57 173H237.57M146.57 163.67H237.57M146.57 154.34H237.57M146.57 145H237.57M146.57 135.67H237.57M154.6 131.1V201M167.98 131.1V201M181.36 131.1V201M194.75 131.1V201M208.13 131.1V201M221.51 131.1V201M234.89 131.1V201" stroke="#ebebeb" stroke-width="0.6" fill="none"/>
<path d="M146.57 135.45H237.57" stroke="#9c9c9c" stroke-width="1.8" fill="none"/>
<g clip-path="url(#c11)" fill="none" stroke-linejoin="round" stroke-linecap="butt">
<path d="M146.57 201 L151.92 201 L157.28 199.6 L162.63 197.27 L167.98 193.91 L173.33 189.8 L178.69 184.39 L184.04 180.19 L189.39 176.92 L194.75 173.93 L200.1 171.13 L205.45 168.89 L210.81 166.19 L216.16 164.04 L221.51 162.55 L226.86 160.87 L232.22 158.81 L237.57 157.13" stroke="#000000" stroke-width="1.6"/>
<path d="M146.57 201 L151.92 201 L157.28 200.72 L162.63 199.32 L167.98 197.27 L173.33 194.56 L178.69 192.51 L184.04 190.45 L189.39 189.15 L194.75 188.4 L200.1 187.09 L205.45 185.69 L210.81 184.67 L216.16 184.67 L221.51 184.67 L226.86 184.11 L232.22 181.68 L237.57 182.33" stroke="#e2231f" stroke-width="1.6"/>
<path d="M146.57 201 L151.92 201 L157.28 200.53 L162.63 198.67 L167.98 195.96 L173.33 193.25 L178.69 189.15 L184.04 187.09 L189.39 184.39 L194.75 182.33 L200.1 181.59 L205.45 179.44 L210.81 177.85 L216.16 177.39 L221.51 175.52 L226.86 174.96 L232.22 174.96 L237.57 173.93" stroke="#3f8ec8" stroke-width="1.6"/>
<path d="M142.47 199.9L150.67 199.9M146.57 195.8L146.57 204M143.67 197L149.47 202.8M143.67 202.8L149.47 197M147.82 199.9L156.02 199.9M151.92 195.8L151.92 204M149.02 197L154.82 202.8M149.02 202.8L154.82 197M153.18 199.9L161.38 199.9M157.28 195.8L157.28 204M154.38 197L160.18 202.8M154.38 202.8L160.18 197M158.53 199.9L166.73 199.9M162.63 195.8L162.63 204M159.73 197L165.53 202.8M159.73 202.8L165.53 197M163.88 199.9L172.08 199.9M167.98 195.8L167.98 204M165.08 197L170.88 202.8M165.08 202.8L170.88 197M169.23 199.9L177.43 199.9M173.33 195.8L173.33 204M170.44 197L176.23 202.8M170.44 202.8L176.23 197M174.59 199.9L182.79 199.9M178.69 195.8L178.69 204M175.79 197L181.59 202.8M175.79 202.8L181.59 197M179.94 199.9L188.14 199.9M184.04 195.8L184.04 204M181.14 197L186.94 202.8M181.14 202.8L186.94 197M185.29 199.9L193.49 199.9M189.39 195.8L189.39 204M186.49 197L192.29 202.8M186.49 202.8L192.29 197M190.65 199.9L198.85 199.9M194.75 195.8L194.75 204M191.85 197L197.65 202.8M191.85 202.8L197.65 197M196 199.9L204.2 199.9M200.1 195.8L200.1 204M197.2 197L203 202.8M197.2 202.8L203 197M201.35 199.9L209.55 199.9M205.45 195.8L205.45 204M202.55 197L208.35 202.8M202.55 202.8L208.35 197M206.71 199.9L214.91 199.9M210.81 195.8L210.81 204M207.91 197L213.7 202.8M207.91 202.8L213.7 197M212.06 199.9L220.26 199.9M216.16 195.8L216.16 204M213.26 197L219.06 202.8M213.26 202.8L219.06 197M217.41 199.9L225.61 199.9M221.51 195.8L221.51 204M218.61 197L224.41 202.8M218.61 202.8L224.41 197M222.76 199.9L230.96 199.9M226.86 195.8L226.86 204M223.96 197L229.76 202.8M223.96 202.8L229.76 197M228.12 199.9L236.32 199.9M232.22 195.8L232.22 204M229.32 197L235.12 202.8M229.32 202.8L235.12 197M233.47 199.9L241.67 199.9M237.57 195.8L237.57 204M234.67 197L240.47 202.8M234.67 202.8L240.47 197" stroke="#000" stroke-width="0.75" stroke-opacity="1"/>
<path d="M174.69 192.51L182.69 192.51M178.69 188.51L178.69 196.51M175.86 189.68L181.52 195.34M175.86 195.34L181.52 189.68M180.04 190.45L188.04 190.45M184.04 186.45L184.04 194.45M181.21 187.63L186.87 193.28M181.21 193.28L186.87 187.63M185.39 189.15L193.39 189.15M189.39 185.15L189.39 193.15M186.57 186.32L192.22 191.98M186.57 191.98L192.22 186.32M190.75 188.4L198.75 188.4M194.75 184.4L194.75 192.4M191.92 185.57L197.57 191.23M191.92 191.23L197.57 185.57M196.1 187.09L204.1 187.09M200.1 183.09L200.1 191.09M197.27 184.27L202.93 189.92M197.27 189.92L202.93 184.27M201.45 185.69L209.45 185.69M205.45 181.69L205.45 189.69M202.62 182.87L208.28 188.52M202.62 188.52L208.28 182.87M206.81 184.67L214.81 184.67M210.81 180.67L210.81 188.67M207.98 181.84L213.63 187.5M207.98 187.5L213.63 181.84M212.16 184.67L220.16 184.67M216.16 180.67L216.16 188.67M213.33 181.84L218.99 187.5M213.33 187.5L218.99 181.84M217.51 184.67L225.51 184.67M221.51 180.67L221.51 188.67M218.68 181.84L224.34 187.5M218.68 187.5L224.34 181.84M222.86 184.11L230.86 184.11M226.86 180.11L226.86 188.11M224.04 181.28L229.69 186.94M224.04 186.94L229.69 181.28M228.22 181.68L236.22 181.68M232.22 177.68L232.22 185.68M229.39 178.85L235.05 184.51M229.39 184.51L235.05 178.85M233.57 182.33L241.57 182.33M237.57 178.33L237.57 186.33M234.74 179.51L240.4 185.16M234.74 185.16L240.4 179.51" stroke="#e2231f" stroke-width="0.9" stroke-opacity="0.95"/>
</g>
<rect x="146.57" y="131.1" width="91" height="69.9" fill="none" stroke="#858585" stroke-width="1.1"/>
<text transform="translate(142.17 204.65) scale(0.95 1.15)" font-size="8.6" fill="#555555" text-anchor="end">0</text>
<text transform="translate(142.17 185.98) scale(0.95 1.15)" font-size="8.6" fill="#555555" text-anchor="end">20</text>
<text transform="translate(142.17 167.32) scale(0.95 1.15)" font-size="8.6" fill="#555555" text-anchor="end">40</text>
<text transform="translate(142.17 148.65) scale(0.95 1.15)" font-size="8.6" fill="#555555" text-anchor="end">60</text>
<text x="167.98" y="211.4" font-size="8.6" fill="#555555" text-anchor="middle">5</text>
<text x="194.75" y="211.4" font-size="8.6" fill="#555555" text-anchor="middle">10</text>
<text x="221.51" y="211.4" font-size="8.6" fill="#555555" text-anchor="middle">15</text>
<path d="M143.97 201H146.57M143.97 182.33H146.57M143.97 163.67H146.57M143.97 145H146.57M167.98 201V203.6M194.75 201V203.6M221.51 201V203.6" stroke="#2b2b2b" stroke-width="1" fill="none"/>
<text transform="translate(129.37 166.05) rotate(-90) scale(0.94 1)" font-size="8.5" fill="#1a1a1a" text-anchor="middle">Probability (%)</text>
<text x="191.87" y="124.1" font-size="11.3" fill="#000" text-anchor="middle">LCB (Exp)</text>
<path d="M269.64 191.67H360.64M269.64 182.33H360.64M269.64 173H360.64M269.64 163.67H360.64M269.64 154.34H360.64M269.64 145H360.64M269.64 135.67H360.64M277.67 131.1V201M291.05 131.1V201M304.43 131.1V201M317.82 131.1V201M331.2 131.1V201M344.58 131.1V201M357.96 131.1V201" stroke="#ebebeb" stroke-width="0.6" fill="none"/>
<path d="M269.64 135.45H360.64" stroke="#9c9c9c" stroke-width="1.8" fill="none"/>
<g clip-path="url(#c12)" fill="none" stroke-linejoin="round" stroke-linecap="butt">
<path d="M269.64 201 L274.99 201 L280.35 197.27 L285.7 192.51 L291.05 188.4 L296.4 183.64 L301.76 177.85 L307.11 173.93 L312.46 170.95 L317.82 168.15 L323.17 164.97 L328.52 163.11 L333.88 160.87 L339.23 158.81 L344.58 156.48 L349.93 154.71 L355.29 153.03 L360.64 151.35" stroke="#000000" stroke-width="1.6"/>
<path d="M269.64 201 L274.99 201 L280.35 197.73 L285.7 193.63 L291.05 190.08 L296.4 186.81 L301.76 184.11 L307.11 181.4 L312.46 178.88 L317.82 177.85 L323.17 175.89 L328.52 174.49 L333.88 173.37 L339.23 172.35 L344.58 171.88 L349.93 171.41 L355.29 171.41 L360.64 171.41" stroke="#e2231f" stroke-width="1.6"/>
<path d="M269.64 201 L274.99 201 L280.35 197.73 L285.7 192.51 L291.05 189.15 L296.4 185.69 L301.76 182.71 L307.11 180 L312.46 177.48 L317.82 175.71 L323.17 174.12 L328.52 172.81 L333.88 171.79 L339.23 170.57 L344.58 171.6 L349.93 169.92 L355.29 170.29 L360.64 170.57" stroke="#3f8ec8" stroke-width="1.6"/>
<path d="M265.54 199.9L273.74 199.9M269.64 195.8L269.64 204M266.74 197L272.54 202.8M266.74 202.8L272.54 197M270.89 199.9L279.09 199.9M274.99 195.8L274.99 204M272.09 197L277.89 202.8M272.09 202.8L277.89 197M276.25 199.9L284.45 199.9M280.35 195.8L280.35 204M277.45 197L283.25 202.8M277.45 202.8L283.25 197M281.6 199.9L289.8 199.9M285.7 195.8L285.7 204M282.8 197L288.6 202.8M282.8 202.8L288.6 197M286.95 199.9L295.15 199.9M291.05 195.8L291.05 204M288.15 197L293.95 202.8M288.15 202.8L293.95 197M292.3 199.9L300.5 199.9M296.4 195.8L296.4 204M293.51 197L299.3 202.8M293.51 202.8L299.3 197M297.66 199.9L305.86 199.9M301.76 195.8L301.76 204M298.86 197L304.66 202.8M298.86 202.8L304.66 197M303.01 199.9L311.21 199.9M307.11 195.8L307.11 204M304.21 197L310.01 202.8M304.21 202.8L310.01 197M308.36 199.9L316.56 199.9M312.46 195.8L312.46 204M309.56 197L315.36 202.8M309.56 202.8L315.36 197M313.72 199.9L321.92 199.9M317.82 195.8L317.82 204M314.92 197L320.72 202.8M314.92 202.8L320.72 197M319.07 199.9L327.27 199.9M323.17 195.8L323.17 204M320.27 197L326.07 202.8M320.27 202.8L326.07 197M324.42 199.9L332.62 199.9M328.52 195.8L328.52 204M325.62 197L331.42 202.8M325.62 202.8L331.42 197M329.78 199.9L337.98 199.9M333.88 195.8L333.88 204M330.98 197L336.77 202.8M330.98 202.8L336.77 197M335.13 199.9L343.33 199.9M339.23 195.8L339.23 204M336.33 197L342.13 202.8M336.33 202.8L342.13 197M340.48 199.9L348.68 199.9M344.58 195.8L344.58 204M341.68 197L347.48 202.8M341.68 202.8L347.48 197M345.83 199.9L354.03 199.9M349.93 195.8L349.93 204M347.03 197L352.83 202.8M347.03 202.8L352.83 197M351.19 199.9L359.39 199.9M355.29 195.8L355.29 204M352.39 197L358.19 202.8M352.39 202.8L358.19 197M356.54 199.9L364.74 199.9M360.64 195.8L360.64 204M357.74 197L363.54 202.8M357.74 202.8L363.54 197" stroke="#000" stroke-width="0.75" stroke-opacity="1"/>
<path d="M281.7 193.63L289.7 193.63M285.7 189.63L285.7 197.63M282.87 190.8L288.53 196.46M282.87 196.46L288.53 190.8M313.82 177.85L321.82 177.85M317.82 173.85L317.82 181.85M314.99 175.03L320.64 180.68M314.99 180.68L320.64 175.03" stroke="#e2231f" stroke-width="0.9" stroke-opacity="0.95"/>
</g>
<rect x="269.64" y="131.1" width="91" height="69.9" fill="none" stroke="#858585" stroke-width="1.1"/>
<text transform="translate(265.24 204.65) scale(0.95 1.15)" font-size="8.6" fill="#555555" text-anchor="end">0</text>
<text transform="translate(265.24 185.98) scale(0.95 1.15)" font-size="8.6" fill="#555555" text-anchor="end">20</text>
<text transform="translate(265.24 167.32) scale(0.95 1.15)" font-size="8.6" fill="#555555" text-anchor="end">40</text>
<text transform="translate(265.24 148.65) scale(0.95 1.15)" font-size="8.6" fill="#555555" text-anchor="end">60</text>
<text x="291.05" y="211.4" font-size="8.6" fill="#555555" text-anchor="middle">5</text>
<text x="317.82" y="211.4" font-size="8.6" fill="#555555" text-anchor="middle">10</text>
<text x="344.58" y="211.4" font-size="8.6" fill="#555555" text-anchor="middle">15</text>
<path d="M267.04 201H269.64M267.04 182.33H269.64M267.04 163.67H269.64M267.04 145H269.64M291.05 201V203.6M317.82 201V203.6M344.58 201V203.6" stroke="#2b2b2b" stroke-width="1" fill="none"/>
<text transform="translate(252.44 166.05) rotate(-90) scale(0.94 1)" font-size="8.5" fill="#1a1a1a" text-anchor="middle">Probability (%)</text>
<text x="314.94" y="124.1" font-size="11.3" fill="#000" text-anchor="middle">GB (Exp)</text>
<path d="M392.71 191.67H483.71M392.71 182.33H483.71M392.71 173H483.71M392.71 163.67H483.71M392.71 154.34H483.71M392.71 145H483.71M392.71 135.67H483.71M400.74 131.1V201M414.12 131.1V201M427.5 131.1V201M440.89 131.1V201M454.27 131.1V201M467.65 131.1V201M481.03 131.1V201" stroke="#ebebeb" stroke-width="0.6" fill="none"/>
<path d="M392.71 135.45H483.71" stroke="#9c9c9c" stroke-width="1.8" fill="none"/>
<g clip-path="url(#c13)" fill="none" stroke-linejoin="round" stroke-linecap="butt">
<path d="M392.71 200.72 L398.06 198.2 L403.42 193.07 L408.77 187.47 L414.12 181.4 L419.47 175.8 L424.83 170.2 L430.18 165.07 L435.53 160.4 L440.89 156.2 L446.24 151.72 L451.59 146.59 L456.95 143.88 L462.3 141.83 L467.65 139.96 L473 138.1 L478.36 136.04 L483.71 133.99" stroke="#000000" stroke-width="1.6"/>
<path d="M392.71 200.72 L398.06 198.29 L403.42 193.91 L408.77 189.8 L414.12 185.51 L419.47 180.65 L424.83 179.07 L430.18 174.59 L435.53 175.71 L440.89 171.97 L446.24 168.33 L451.59 165.63 L456.95 162.36 L462.3 158.16 L467.65 155.45 L473 152 L478.36 149.67 L483.71 146.59" stroke="#e2231f" stroke-width="1.6"/>
<path d="M392.71 200.44 L398.06 197.73 L403.42 193.25 L408.77 188.4 L414.12 182.99 L419.47 178.6 L424.83 176.92 L430.18 173 L435.53 170.2 L440.89 166.19 L446.24 161.8 L451.59 157.88 L456.95 156.76 L462.3 152.75 L467.65 147.34 L473 145.28 L478.36 141.18 L483.71 138" stroke="#3f8ec8" stroke-width="1.6"/>
<path d="M426.08 199.9L434.28 199.9M430.18 195.8L430.18 204M427.28 197L433.08 202.8M427.28 202.8L433.08 197M431.43 199.9L439.63 199.9M435.53 195.8L435.53 204M432.63 197L438.43 202.8M432.63 202.8L438.43 197M436.79 199.9L444.99 199.9M440.89 195.8L440.89 204M437.99 197L443.79 202.8M437.99 202.8L443.79 197M442.14 199.9L450.34 199.9M446.24 195.8L446.24 204M443.34 197L449.14 202.8M443.34 202.8L449.14 197M447.49 199.9L455.69 199.9M451.59 195.8L451.59 204M448.69 197L454.49 202.8M448.69 202.8L454.49 197M452.85 199.9L461.05 199.9M456.95 195.8L456.95 204M454.05 197L459.84 202.8M454.05 202.8L459.84 197M458.2 199.9L466.4 199.9M462.3 195.8L462.3 204M459.4 197L465.2 202.8M459.4 202.8L465.2 197M463.55 199.9L471.75 199.9M467.65 195.8L467.65 204M464.75 197L470.55 202.8M464.75 202.8L470.55 197M468.9 199.9L477.1 199.9M473 195.8L473 204M470.1 197L475.9 202.8M470.1 202.8L475.9 197M474.26 199.9L482.46 199.9M478.36 195.8L478.36 204M475.46 197L481.26 202.8M475.46 202.8L481.26 197M479.61 199.9L487.81 199.9M483.71 195.8L483.71 204M480.81 197L486.61 202.8M480.81 202.8L486.61 197" stroke="#000" stroke-width="0.75" stroke-opacity="1"/>
<path d="M426.18 174.59L434.18 174.59M430.18 170.59L430.18 178.59M427.35 171.76L433.01 177.42M427.35 177.42L433.01 171.76M431.53 175.71L439.53 175.71M435.53 171.71L435.53 179.71M432.71 172.88L438.36 178.54M432.71 178.54L438.36 172.88M436.89 171.97L444.89 171.97M440.89 167.97L440.89 175.97M438.06 169.15L443.71 174.8M438.06 174.8L443.71 169.15M442.24 168.33L450.24 168.33M446.24 164.33L446.24 172.33M443.41 165.51L449.07 171.16M443.41 171.16L449.07 165.51M447.59 165.63L455.59 165.63M451.59 161.63L451.59 169.63M448.76 162.8L454.42 168.46M448.76 168.46L454.42 162.8M452.95 162.36L460.95 162.36M456.95 158.36L456.95 166.36M454.12 159.53L459.77 165.19M454.12 165.19L459.77 159.53M458.3 158.16L466.3 158.16M462.3 154.16L462.3 162.16M459.47 155.33L465.13 160.99M459.47 160.99L465.13 155.33M463.65 155.45L471.65 155.45M467.65 151.45L467.65 159.45M464.82 152.63L470.48 158.28M464.82 158.28L470.48 152.63M469 152L477 152M473 148L473 156M470.18 149.17L475.83 154.83M470.18 154.83L475.83 149.17M474.36 149.67L482.36 149.67M478.36 145.67L478.36 153.67M475.53 146.84L481.19 152.5M475.53 152.5L481.19 146.84M479.71 146.59L487.71 146.59M483.71 142.59L483.71 150.59M480.88 143.76L486.54 149.42M480.88 149.42L486.54 143.76" stroke="#e2231f" stroke-width="0.9" stroke-opacity="0.95"/>
</g>
<rect x="392.71" y="131.1" width="91" height="69.9" fill="none" stroke="#858585" stroke-width="1.1"/>
<text transform="translate(388.31 204.65) scale(0.95 1.15)" font-size="8.6" fill="#555555" text-anchor="end">0</text>
<text transform="translate(388.31 185.98) scale(0.95 1.15)" font-size="8.6" fill="#555555" text-anchor="end">20</text>
<text transform="translate(388.31 167.32) scale(0.95 1.15)" font-size="8.6" fill="#555555" text-anchor="end">40</text>
<text transform="translate(388.31 148.65) scale(0.95 1.15)" font-size="8.6" fill="#555555" text-anchor="end">60</text>
<text x="414.12" y="211.4" font-size="8.6" fill="#555555" text-anchor="middle">5</text>
<text x="440.89" y="211.4" font-size="8.6" fill="#555555" text-anchor="middle">10</text>
<text x="467.65" y="211.4" font-size="8.6" fill="#555555" text-anchor="middle">15</text>
<path d="M390.11 201H392.71M390.11 182.33H392.71M390.11 163.67H392.71M390.11 145H392.71M414.12 201V203.6M440.89 201V203.6M467.65 201V203.6" stroke="#2b2b2b" stroke-width="1" fill="none"/>
<text transform="translate(375.51 166.05) rotate(-90) scale(0.94 1)" font-size="8.5" fill="#1a1a1a" text-anchor="middle">Probability (%)</text>
<text x="438.01" y="124.1" font-size="11.3" fill="#000" text-anchor="middle">PNW (Exp)</text>
<path d="M515.78 191.67H606.78M515.78 182.33H606.78M515.78 173H606.78M515.78 163.67H606.78M515.78 154.34H606.78M515.78 145H606.78M515.78 135.67H606.78M523.81 131.1V201M537.19 131.1V201M550.57 131.1V201M563.96 131.1V201M577.34 131.1V201M590.72 131.1V201M604.1 131.1V201" stroke="#ebebeb" stroke-width="0.6" fill="none"/>
<path d="M515.78 135.45H606.78" stroke="#9c9c9c" stroke-width="1.8" fill="none"/>
<g clip-path="url(#c14)" fill="none" stroke-linejoin="round" stroke-linecap="butt">
<path d="M515.78 201 L521.13 201 L526.49 200.25 L531.84 196.52 L537.19 191.85 L542.54 187.56 L547.9 182.99 L553.25 177.67 L558.6 172.25 L563.96 167.96 L569.31 164.23 L574.66 160.87 L580.02 157.51 L585.37 154.43 L590.72 152.1 L596.07 149.3 L601.43 147.52 L606.78 145.19" stroke="#000000" stroke-width="1.6"/>
<path d="M515.78 201 L521.13 201 L526.49 200.81 L531.84 199.32 L537.19 194.56 L542.54 190.45 L547.9 186.44 L553.25 182.33 L558.6 178.6 L563.96 175.89 L569.31 173.75 L574.66 171.32 L580.02 170.2 L585.37 169.27 L590.72 170.2 L596.07 169.55 L601.43 168.71 L606.78 168.71" stroke="#e2231f" stroke-width="1.6"/>
<path d="M515.78 201 L521.13 201 L526.49 200.72 L531.84 199.13 L537.19 193.91 L542.54 189.8 L547.9 185.69 L553.25 181.4 L558.6 177.67 L563.96 174.49 L569.31 172.63 L574.66 170.48 L580.02 169.08 L585.37 167.87 L590.72 167.96 L596.07 166.93 L601.43 165.91 L606.78 165.07" stroke="#3f8ec8" stroke-width="1.6"/>
<path d="M511.68 199.9L519.88 199.9M515.78 195.8L515.78 204M512.88 197L518.68 202.8M512.88 202.8L518.68 197M517.03 199.9L525.23 199.9M521.13 195.8L521.13 204M518.23 197L524.03 202.8M518.23 202.8L524.03 197M522.39 199.9L530.59 199.9M526.49 195.8L526.49 204M523.59 197L529.39 202.8M523.59 202.8L529.39 197M527.74 199.9L535.94 199.9M531.84 195.8L531.84 204M528.94 197L534.74 202.8M528.94 202.8L534.74 197M533.09 199.9L541.29 199.9M537.19 195.8L537.19 204M534.29 197L540.09 202.8M534.29 202.8L540.09 197M538.44 199.9L546.64 199.9M542.54 195.8L542.54 204M539.65 197L545.44 202.8M539.65 202.8L545.44 197M543.8 199.9L552 199.9M547.9 195.8L547.9 204M545 197L550.8 202.8M545 202.8L550.8 197M549.15 199.9L557.35 199.9M553.25 195.8L553.25 204M550.35 197L556.15 202.8M550.35 202.8L556.15 197M554.5 199.9L562.7 199.9M558.6 195.8L558.6 204M555.7 197L561.5 202.8M555.7 202.8L561.5 197M559.86 199.9L568.06 199.9M563.96 195.8L563.96 204M561.06 197L566.86 202.8M561.06 202.8L566.86 197M565.21 199.9L573.41 199.9M569.31 195.8L569.31 204M566.41 197L572.21 202.8M566.41 202.8L572.21 197M570.56 199.9L578.76 199.9M574.66 195.8L574.66 204M571.76 197L577.56 202.8M571.76 202.8L577.56 197M575.92 199.9L584.12 199.9M580.02 195.8L580.02 204M577.12 197L582.91 202.8M577.12 202.8L582.91 197M581.27 199.9L589.47 199.9M585.37 195.8L585.37 204M582.47 197L588.27 202.8M582.47 202.8L588.27 197M586.62 199.9L594.82 199.9M590.72 195.8L590.72 204M587.82 197L593.62 202.8M587.82 202.8L593.62 197M591.97 199.9L600.17 199.9M596.07 195.8L596.07 204M593.17 197L598.97 202.8M593.17 202.8L598.97 197M597.33 199.9L605.53 199.9M601.43 195.8L601.43 204M598.53 197L604.33 202.8M598.53 202.8L604.33 197M602.68 199.9L610.88 199.9M606.78 195.8L606.78 204M603.88 197L609.68 202.8M603.88 202.8L609.68 197" stroke="#000" stroke-width="0.75" stroke-opacity="1"/>
<path d="M554.6 178.6L562.6 178.6M558.6 174.6L558.6 182.6M555.78 175.77L561.43 181.43M555.78 181.43L561.43 175.77M559.96 175.89L567.96 175.89M563.96 171.89L563.96 179.89M561.13 173.07L566.78 178.72M561.13 178.72L566.78 173.07M565.31 173.75L573.31 173.75M569.31 169.75L569.31 177.75M566.48 170.92L572.14 176.58M566.48 176.58L572.14 170.92M592.07 169.55L600.07 169.55M596.07 165.55L596.07 173.55M593.25 166.72L598.9 172.38M593.25 172.38L598.9 166.72M597.43 168.71L605.43 168.71M601.43 164.71L601.43 172.71M598.6 165.88L604.26 171.54M598.6 171.54L604.26 165.88M602.78 168.71L610.78 168.71M606.78 164.71L606.78 172.71M603.95 165.88L609.61 171.54M603.95 171.54L609.61 165.88" stroke="#e2231f" stroke-width="0.9" stroke-opacity="0.95"/>
</g>
<rect x="515.78" y="131.1" width="91" height="69.9" fill="none" stroke="#858585" stroke-width="1.1"/>
<text transform="translate(511.38 204.65) scale(0.95 1.15)" font-size="8.6" fill="#555555" text-anchor="end">0</text>
<text transform="translate(511.38 185.98) scale(0.95 1.15)" font-size="8.6" fill="#555555" text-anchor="end">20</text>
<text transform="translate(511.38 167.32) scale(0.95 1.15)" font-size="8.6" fill="#555555" text-anchor="end">40</text>
<text transform="translate(511.38 148.65) scale(0.95 1.15)" font-size="8.6" fill="#555555" text-anchor="end">60</text>
<text x="537.19" y="211.4" font-size="8.6" fill="#555555" text-anchor="middle">5</text>
<text x="563.96" y="211.4" font-size="8.6" fill="#555555" text-anchor="middle">10</text>
<text x="590.72" y="211.4" font-size="8.6" fill="#555555" text-anchor="middle">15</text>
<path d="M513.18 201H515.78M513.18 182.33H515.78M513.18 163.67H515.78M513.18 145H515.78M537.19 201V203.6M563.96 201V203.6M590.72 201V203.6" stroke="#2b2b2b" stroke-width="1" fill="none"/>
<text transform="translate(498.58 166.05) rotate(-90) scale(0.94 1)" font-size="8.5" fill="#1a1a1a" text-anchor="middle">Probability (%)</text>
<text x="561.08" y="124.1" font-size="11.3" fill="#000" text-anchor="middle">CA (Exp)</text>
<path d="M23.5 307.17H114.5M23.5 297.83H114.5M23.5 288.5H114.5M23.5 279.17H114.5M23.5 269.83H114.5M23.5 260.5H114.5M23.5 251.17H114.5M31.53 246.6V316.5M44.91 246.6V316.5M58.29 246.6V316.5M71.68 246.6V316.5M85.06 246.6V316.5M98.44 246.6V316.5M111.82 246.6V316.5" stroke="#ebebeb" stroke-width="0.6" fill="none"/>
<path d="M23.5 250.95H114.5" stroke="#9c9c9c" stroke-width="1.8" fill="none"/>
<g clip-path="url(#c20)" fill="none" stroke-linejoin="round" stroke-linecap="butt">
<path d="M23.5 315.85 C24.39 315.46 27.07 314.52 28.85 313.51 C30.64 312.51 32.42 311.07 34.21 309.81 C35.99 308.56 37.77 307.31 39.56 305.98 C41.34 304.65 43.13 303.22 44.91 301.83 C46.7 300.45 48.48 299.01 50.26 297.66 C52.05 296.31 53.83 294.99 55.62 293.74 C57.4 292.48 59.19 291.28 60.97 290.11 C62.75 288.93 64.54 287.79 66.32 286.67 C68.11 285.56 69.89 284.47 71.68 283.4 C73.46 282.33 75.25 281.28 77.03 280.26 C78.81 279.25 80.6 278.25 82.38 277.3 C84.17 276.36 85.95 275.44 87.74 274.57 C89.52 273.71 91.3 272.89 93.09 272.12 C94.87 271.35 96.66 270.62 98.44 269.94 C100.23 269.27 102.01 268.65 103.79 268.07 C105.58 267.49 107.36 266.97 109.15 266.46 C110.93 265.96 113.61 265.26 114.5 265.02" stroke="#000000" stroke-width="1.5"/>
<path d="M23.5 315.85 C24.39 315.46 27.07 314.53 28.85 313.51 C30.64 312.5 32.42 311.03 34.21 309.75 C35.99 308.48 37.77 307.22 39.56 305.86 C41.34 304.5 43.13 303.04 44.91 301.61 C46.7 300.19 48.48 298.69 50.26 297.29 C52.05 295.89 53.83 294.51 55.62 293.2 C57.4 291.89 59.19 290.65 60.97 289.44 C62.75 288.24 64.54 287.1 66.32 285.99 C68.11 284.88 69.89 283.82 71.68 282.79 C73.46 281.76 75.25 280.76 77.03 279.8 C78.81 278.84 80.6 277.9 82.38 277.03 C84.17 276.16 85.95 275.34 87.74 274.59 C89.52 273.85 91.3 273.18 93.09 272.58 C94.87 271.97 96.66 271.45 98.44 270.95 C100.23 270.46 102.01 270.03 103.79 269.6 C105.58 269.18 107.36 268.8 109.15 268.42 C110.93 268.03 113.61 267.48 114.5 267.3" stroke="#c0283a" stroke-width="1.3"/>
</g>
<rect x="23.5" y="246.6" width="91" height="69.9" fill="none" stroke="#858585" stroke-width="1.1"/>
<text transform="translate(19.1 320.15) scale(0.95 1.15)" font-size="8.6" fill="#555555" text-anchor="end">0</text>
<text transform="translate(19.1 301.48) scale(0.95 1.15)" font-size="8.6" fill="#555555" text-anchor="end">20</text>
<text transform="translate(19.1 282.82) scale(0.95 1.15)" font-size="8.6" fill="#555555" text-anchor="end">40</text>
<text transform="translate(19.1 264.15) scale(0.95 1.15)" font-size="8.6" fill="#555555" text-anchor="end">60</text>
<text x="44.91" y="326.9" font-size="8.6" fill="#555555" text-anchor="middle">5</text>
<text x="71.68" y="326.9" font-size="8.6" fill="#555555" text-anchor="middle">10</text>
<text x="98.44" y="326.9" font-size="8.6" fill="#555555" text-anchor="middle">15</text>
<path d="M20.9 316.5H23.5M20.9 297.83H23.5M20.9 279.17H23.5M20.9 260.5H23.5M44.91 316.5V319.1M71.68 316.5V319.1M98.44 316.5V319.1" stroke="#2b2b2b" stroke-width="1" fill="none"/>
<text transform="translate(6.3 281.55) rotate(-90) scale(0.94 1)" font-size="8.5" fill="#1a1a1a" text-anchor="middle">Probability (%)</text>
<text x="68.8" y="239.6" font-size="11.3" fill="#000" text-anchor="middle">UCB (Mod)</text>
<text x="69" y="335.6" font-size="8.2" fill="#000" text-anchor="middle">Month</text>
<path d="M146.57 307.17H237.57M146.57 297.83H237.57M146.57 288.5H237.57M146.57 279.17H237.57M146.57 269.83H237.57M146.57 260.5H237.57M146.57 251.17H237.57M154.6 246.6V316.5M167.98 246.6V316.5M181.36 246.6V316.5M194.75 246.6V316.5M208.13 246.6V316.5M221.51 246.6V316.5M234.89 246.6V316.5" stroke="#ebebeb" stroke-width="0.6" fill="none"/>
<path d="M146.57 250.95H237.57" stroke="#9c9c9c" stroke-width="1.8" fill="none"/>
<g clip-path="url(#c21)" fill="none" stroke-linejoin="round" stroke-linecap="butt">
<path d="M146.57 315.85 C147.46 315.21 150.14 313.46 151.92 312.02 C153.71 310.58 155.49 308.79 157.28 307.18 C159.06 305.57 160.84 303.99 162.63 302.36 C164.41 300.73 166.2 299.04 167.98 297.38 C169.77 295.73 171.55 294.05 173.33 292.43 C175.12 290.82 176.9 289.2 178.69 287.67 C180.47 286.15 182.26 284.65 184.04 283.27 C185.82 281.88 187.61 280.57 189.39 279.36 C191.18 278.14 192.96 277.03 194.75 275.98 C196.53 274.93 198.32 273.96 200.1 273.04 C201.88 272.11 203.67 271.26 205.45 270.44 C207.24 269.63 209.02 268.87 210.81 268.16 C212.59 267.44 214.37 266.78 216.16 266.16 C217.94 265.54 219.73 264.98 221.51 264.44 C223.3 263.91 225.08 263.42 226.86 262.95 C228.65 262.48 230.43 262.05 232.22 261.62 C234 261.2 236.68 260.59 237.57 260.38" stroke="#000000" stroke-width="1.5"/>
<path d="M146.57 315.85 C147.46 315.21 150.14 313.47 151.92 312.02 C153.71 310.57 155.49 308.77 157.28 307.16 C159.06 305.54 160.84 303.96 162.63 302.33 C164.41 300.71 166.2 299.02 167.98 297.4 C169.77 295.77 171.55 294.12 173.33 292.56 C175.12 291 176.9 289.45 178.69 288.03 C180.47 286.61 182.26 285.24 184.04 284.04 C185.82 282.84 187.61 281.77 189.39 280.82 C191.18 279.87 192.96 279.09 194.75 278.35 C196.53 277.61 198.32 276.98 200.1 276.37 C201.88 275.75 203.67 275.2 205.45 274.67 C207.24 274.14 209.02 273.65 210.81 273.17 C212.59 272.69 214.37 272.24 216.16 271.79 C217.94 271.35 219.73 270.92 221.51 270.49 C223.3 270.06 225.08 269.64 226.86 269.21 C228.65 268.78 230.43 268.34 232.22 267.89 C234 267.45 236.68 266.76 237.57 266.54" stroke="#c0283a" stroke-width="1.3"/>
<path d="M206.71 315.4L214.91 315.4M210.81 311.3L210.81 319.5M207.91 312.5L213.7 318.3M207.91 318.3L213.7 312.5M212.06 315.4L220.26 315.4M216.16 311.3L216.16 319.5M213.26 312.5L219.06 318.3M213.26 318.3L219.06 312.5M217.41 315.4L225.61 315.4M221.51 311.3L221.51 319.5M218.61 312.5L224.41 318.3M218.61 318.3L224.41 312.5M222.76 315.4L230.96 315.4M226.86 311.3L226.86 319.5M223.96 312.5L229.76 318.3M223.96 318.3L229.76 312.5M228.12 315.4L236.32 315.4M232.22 311.3L232.22 319.5M229.32 312.5L235.12 318.3M229.32 318.3L235.12 312.5M233.47 315.4L241.67 315.4M237.57 311.3L237.57 319.5M234.67 312.5L240.47 318.3M234.67 318.3L240.47 312.5" stroke="#000" stroke-width="0.75" stroke-opacity="1"/>
</g>
<rect x="146.57" y="246.6" width="91" height="69.9" fill="none" stroke="#858585" stroke-width="1.1"/>
<text transform="translate(142.17 320.15) scale(0.95 1.15)" font-size="8.6" fill="#555555" text-anchor="end">0</text>
<text transform="translate(142.17 301.48) scale(0.95 1.15)" font-size="8.6" fill="#555555" text-anchor="end">20</text>
<text transform="translate(142.17 282.82) scale(0.95 1.15)" font-size="8.6" fill="#555555" text-anchor="end">40</text>
<text transform="translate(142.17 264.15) scale(0.95 1.15)" font-size="8.6" fill="#555555" text-anchor="end">60</text>
<text x="167.98" y="326.9" font-size="8.6" fill="#555555" text-anchor="middle">5</text>
<text x="194.75" y="326.9" font-size="8.6" fill="#555555" text-anchor="middle">10</text>
<text x="221.51" y="326.9" font-size="8.6" fill="#555555" text-anchor="middle">15</text>
<path d="M143.97 316.5H146.57M143.97 297.83H146.57M143.97 279.17H146.57M143.97 260.5H146.57M167.98 316.5V319.1M194.75 316.5V319.1M221.51 316.5V319.1" stroke="#2b2b2b" stroke-width="1" fill="none"/>
<text transform="translate(129.37 281.55) rotate(-90) scale(0.94 1)" font-size="8.5" fill="#1a1a1a" text-anchor="middle">Probability (%)</text>
<text x="191.87" y="239.6" font-size="11.3" fill="#000" text-anchor="middle">LCB (Mod)</text>
<text x="192.07" y="335.6" font-size="8.2" fill="#000" text-anchor="middle">Month</text>
<path d="M269.64 307.17H360.64M269.64 297.83H360.64M269.64 288.5H360.64M269.64 279.17H360.64M269.64 269.83H360.64M269.64 260.5H360.64M269.64 251.17H360.64M277.67 246.6V316.5M291.05 246.6V316.5M304.43 246.6V316.5M317.82 246.6V316.5M331.2 246.6V316.5M344.58 246.6V316.5M357.96 246.6V316.5" stroke="#ebebeb" stroke-width="0.6" fill="none"/>
<path d="M269.64 250.95H360.64" stroke="#9c9c9c" stroke-width="1.8" fill="none"/>
<g clip-path="url(#c22)" fill="none" stroke-linejoin="round" stroke-linecap="butt">
<path d="M269.64 315.85 C270.53 315.44 273.21 314.43 274.99 313.42 C276.78 312.41 278.56 311.01 280.35 309.79 C282.13 308.58 283.91 307.4 285.7 306.13 C287.48 304.87 289.27 303.54 291.05 302.2 C292.84 300.87 294.62 299.48 296.4 298.12 C298.19 296.77 299.97 295.41 301.76 294.09 C303.54 292.77 305.33 291.48 307.11 290.22 C308.89 288.96 310.68 287.73 312.46 286.53 C314.25 285.32 316.03 284.13 317.82 282.98 C319.6 281.84 321.39 280.73 323.17 279.65 C324.95 278.58 326.74 277.53 328.52 276.53 C330.31 275.53 332.09 274.56 333.88 273.66 C335.66 272.75 337.44 271.9 339.23 271.1 C341.01 270.31 342.8 269.56 344.58 268.88 C346.37 268.2 348.15 267.58 349.93 267.01 C351.72 266.45 353.5 265.96 355.29 265.49 C357.07 265.02 359.75 264.41 360.64 264.19" stroke="#000000" stroke-width="1.5"/>
<path d="M269.64 315.85 C270.53 315.36 273.21 314.19 274.99 312.95 C276.78 311.72 278.56 309.92 280.35 308.44 C282.13 306.96 283.91 305.54 285.7 304.1 C287.48 302.65 289.27 301.17 291.05 299.76 C292.84 298.36 294.62 296.98 296.4 295.65 C298.19 294.32 299.97 293.04 301.76 291.8 C303.54 290.56 305.33 289.38 307.11 288.22 C308.89 287.07 310.68 285.94 312.46 284.85 C314.25 283.76 316.03 282.69 317.82 281.66 C319.6 280.63 321.39 279.63 323.17 278.65 C324.95 277.67 326.74 276.7 328.52 275.76 C330.31 274.83 332.09 273.92 333.88 273.05 C335.66 272.19 337.44 271.37 339.23 270.6 C341.01 269.83 342.8 269.1 344.58 268.44 C346.37 267.77 348.15 267.17 349.93 266.61 C351.72 266.05 353.5 265.57 355.29 265.09 C357.07 264.62 359.75 263.98 360.64 263.76" stroke="#c0283a" stroke-width="1.3"/>
</g>
<rect x="269.64" y="246.6" width="91" height="69.9" fill="none" stroke="#858585" stroke-width="1.1"/>
<text transform="translate(265.24 320.15) scale(0.95 1.15)" font-size="8.6" fill="#555555" text-anchor="end">0</text>
<text transform="translate(265.24 301.48) scale(0.95 1.15)" font-size="8.6" fill="#555555" text-anchor="end">20</text>
<text transform="translate(265.24 282.82) scale(0.95 1.15)" font-size="8.6" fill="#555555" text-anchor="end">40</text>
<text transform="translate(265.24 264.15) scale(0.95 1.15)" font-size="8.6" fill="#555555" text-anchor="end">60</text>
<text x="291.05" y="326.9" font-size="8.6" fill="#555555" text-anchor="middle">5</text>
<text x="317.82" y="326.9" font-size="8.6" fill="#555555" text-anchor="middle">10</text>
<text x="344.58" y="326.9" font-size="8.6" fill="#555555" text-anchor="middle">15</text>
<path d="M267.04 316.5H269.64M267.04 297.83H269.64M267.04 279.17H269.64M267.04 260.5H269.64M291.05 316.5V319.1M317.82 316.5V319.1M344.58 316.5V319.1" stroke="#2b2b2b" stroke-width="1" fill="none"/>
<text transform="translate(252.44 281.55) rotate(-90) scale(0.94 1)" font-size="8.5" fill="#1a1a1a" text-anchor="middle">Probability (%)</text>
<text x="314.94" y="239.6" font-size="11.3" fill="#000" text-anchor="middle">GB (Mod)</text>
<text x="315.14" y="335.6" font-size="8.2" fill="#000" text-anchor="middle">Month</text>
<path d="M392.71 307.17H483.71M392.71 297.83H483.71M392.71 288.5H483.71M392.71 279.17H483.71M392.71 269.83H483.71M392.71 260.5H483.71M392.71 251.17H483.71M400.74 246.6V316.5M414.12 246.6V316.5M427.5 246.6V316.5M440.89 246.6V316.5M454.27 246.6V316.5M467.65 246.6V316.5M481.03 246.6V316.5" stroke="#ebebeb" stroke-width="0.6" fill="none"/>
<path d="M392.71 250.95H483.71" stroke="#9c9c9c" stroke-width="1.8" fill="none"/>
<g clip-path="url(#c23)" fill="none" stroke-linejoin="round" stroke-linecap="butt">
<path d="M392.71 315.75 C393.6 315.38 396.28 314.63 398.06 313.51 C399.85 312.4 401.63 310.57 403.42 309.07 C405.2 307.57 406.98 306.08 408.77 304.51 C410.55 302.93 412.34 301.23 414.12 299.61 C415.91 297.99 417.69 296.33 419.47 294.79 C421.26 293.26 423.04 291.79 424.83 290.37 C426.61 288.96 428.4 287.63 430.18 286.31 C431.96 284.98 433.75 283.71 435.53 282.44 C437.32 281.17 439.1 279.9 440.89 278.69 C442.67 277.49 444.46 276.29 446.24 275.19 C448.02 274.1 449.81 273.07 451.59 272.12 C453.38 271.17 455.16 270.3 456.95 269.5 C458.73 268.71 460.51 268.01 462.3 267.36 C464.08 266.71 465.87 266.15 467.65 265.6 C469.44 265.05 471.22 264.56 473 264.05 C474.79 263.54 476.57 263.06 478.36 262.55 C480.14 262.05 482.82 261.28 483.71 261.02" stroke="#000000" stroke-width="1.5"/>
<path d="M392.71 315.85 C393.6 315.55 396.28 315.11 398.06 314.07 C399.85 313.03 401.63 311.12 403.42 309.61 C405.2 308.1 406.98 306.61 408.77 305.01 C410.55 303.42 412.34 301.66 414.12 300.03 C415.91 298.4 417.69 296.72 419.47 295.22 C421.26 293.73 423.04 292.32 424.83 291.07 C426.61 289.82 428.4 288.71 430.18 287.72 C431.96 286.73 433.75 285.89 435.53 285.11 C437.32 284.33 439.1 283.68 440.89 283.01 C442.67 282.35 444.46 281.74 446.24 281.1 C448.02 280.46 449.81 279.81 451.59 279.15 C453.38 278.49 455.16 277.79 456.95 277.14 C458.73 276.48 460.51 275.8 462.3 275.19 C464.08 274.59 465.87 274.01 467.65 273.49 C469.44 272.98 471.22 272.54 473 272.11 C474.79 271.69 476.57 271.32 478.36 270.94 C480.14 270.56 482.82 270.01 483.71 269.83" stroke="#c0283a" stroke-width="1.3"/>
<path d="M442.14 315.4L450.34 315.4M446.24 311.3L446.24 319.5M443.34 312.5L449.14 318.3M443.34 318.3L449.14 312.5M447.49 315.4L455.69 315.4M451.59 311.3L451.59 319.5M448.69 312.5L454.49 318.3M448.69 318.3L454.49 312.5M452.85 315.4L461.05 315.4M456.95 311.3L456.95 319.5M454.05 312.5L459.84 318.3M454.05 318.3L459.84 312.5M458.2 315.4L466.4 315.4M462.3 311.3L462.3 319.5M459.4 312.5L465.2 318.3M459.4 318.3L465.2 312.5M463.55 315.4L471.75 315.4M467.65 311.3L467.65 319.5M464.75 312.5L470.55 318.3M464.75 318.3L470.55 312.5M468.9 315.4L477.1 315.4M473 311.3L473 319.5M470.1 312.5L475.9 318.3M470.1 318.3L475.9 312.5M474.26 315.4L482.46 315.4M478.36 311.3L478.36 319.5M475.46 312.5L481.26 318.3M475.46 318.3L481.26 312.5M479.61 315.4L487.81 315.4M483.71 311.3L483.71 319.5M480.81 312.5L486.61 318.3M480.81 318.3L486.61 312.5" stroke="#000" stroke-width="0.75" stroke-opacity="1"/>
</g>
<rect x="392.71" y="246.6" width="91" height="69.9" fill="none" stroke="#858585" stroke-width="1.1"/>
<text transform="translate(388.31 320.15) scale(0.95 1.15)" font-size="8.6" fill="#555555" text-anchor="end">0</text>
<text transform="translate(388.31 301.48) scale(0.95 1.15)" font-size="8.6" fill="#555555" text-anchor="end">20</text>
<text transform="translate(388.31 282.82) scale(0.95 1.15)" font-size="8.6" fill="#555555" text-anchor="end">40</text>
<text transform="translate(388.31 264.15) scale(0.95 1.15)" font-size="8.6" fill="#555555" text-anchor="end">60</text>
<text x="414.12" y="326.9" font-size="8.6" fill="#555555" text-anchor="middle">5</text>
<text x="440.89" y="326.9" font-size="8.6" fill="#555555" text-anchor="middle">10</text>
<text x="467.65" y="326.9" font-size="8.6" fill="#555555" text-anchor="middle">15</text>
<path d="M390.11 316.5H392.71M390.11 297.83H392.71M390.11 279.17H392.71M390.11 260.5H392.71M414.12 316.5V319.1M440.89 316.5V319.1M467.65 316.5V319.1" stroke="#2b2b2b" stroke-width="1" fill="none"/>
<text transform="translate(375.51 281.55) rotate(-90) scale(0.94 1)" font-size="8.5" fill="#1a1a1a" text-anchor="middle">Probability (%)</text>
<text x="438.01" y="239.6" font-size="11.3" fill="#000" text-anchor="middle">PNW (Mod)</text>
<text x="438.21" y="335.6" font-size="8.2" fill="#000" text-anchor="middle">Month</text>
<path d="M515.78 307.17H606.78M515.78 297.83H606.78M515.78 288.5H606.78M515.78 279.17H606.78M515.78 269.83H606.78M515.78 260.5H606.78M515.78 251.17H606.78M523.81 246.6V316.5M537.19 246.6V316.5M550.57 246.6V316.5M563.96 246.6V316.5M577.34 246.6V316.5M590.72 246.6V316.5M604.1 246.6V316.5" stroke="#ebebeb" stroke-width="0.6" fill="none"/>
<path d="M515.78 250.95H606.78" stroke="#9c9c9c" stroke-width="1.8" fill="none"/>
<g clip-path="url(#c24)" fill="none" stroke-linejoin="round" stroke-linecap="butt">
<path d="M515.78 315.57 C516.67 315.1 519.35 313.99 521.13 312.77 C522.92 311.55 524.7 309.79 526.49 308.25 C528.27 306.71 530.05 305.17 531.84 303.54 C533.62 301.91 535.41 300.15 537.19 298.45 C538.98 296.75 540.76 294.99 542.54 293.34 C544.33 291.68 546.11 290.06 547.9 288.52 C549.68 286.98 551.47 285.52 553.25 284.08 C555.03 282.65 556.82 281.27 558.6 279.91 C560.39 278.54 562.17 277.18 563.96 275.9 C565.74 274.62 567.53 273.36 569.31 272.22 C571.09 271.08 572.88 270 574.66 269.03 C576.45 268.07 578.23 267.19 580.02 266.41 C581.8 265.63 583.58 264.95 585.37 264.33 C587.15 263.71 588.94 263.18 590.72 262.68 C592.51 262.18 594.29 261.76 596.07 261.32 C597.86 260.88 599.64 260.47 601.43 260.04 C603.21 259.61 605.89 258.97 606.78 258.75" stroke="#000000" stroke-width="1.5"/>
<path d="M515.78 315.57 C516.67 315.12 519.35 314.07 521.13 312.86 C522.92 311.65 524.7 309.86 526.49 308.33 C528.27 306.81 530.05 305.3 531.84 303.71 C533.62 302.12 535.41 300.41 537.19 298.79 C538.98 297.18 540.76 295.51 542.54 294.01 C544.33 292.5 546.11 291.05 547.9 289.75 C549.68 288.44 551.47 287.26 553.25 286.16 C555.03 285.06 556.82 284.09 558.6 283.15 C560.39 282.2 562.17 281.35 563.96 280.51 C565.74 279.67 567.53 278.88 569.31 278.11 C571.09 277.34 572.88 276.58 574.66 275.89 C576.45 275.19 578.23 274.53 580.02 273.93 C581.8 273.33 583.58 272.8 585.37 272.29 C587.15 271.77 588.94 271.33 590.72 270.86 C592.51 270.38 594.29 269.91 596.07 269.43 C597.86 268.95 599.64 268.46 601.43 267.97 C603.21 267.47 605.89 266.71 606.78 266.46" stroke="#c0283a" stroke-width="1.3"/>
<path d="M559.86 315.4L568.06 315.4M563.96 311.3L563.96 319.5M561.06 312.5L566.86 318.3M561.06 318.3L566.86 312.5M565.21 315.4L573.41 315.4M569.31 311.3L569.31 319.5M566.41 312.5L572.21 318.3M566.41 318.3L572.21 312.5M570.56 315.4L578.76 315.4M574.66 311.3L574.66 319.5M571.76 312.5L577.56 318.3M571.76 318.3L577.56 312.5M575.92 315.4L584.12 315.4M580.02 311.3L580.02 319.5M577.12 312.5L582.91 318.3M577.12 318.3L582.91 312.5M581.27 315.4L589.47 315.4M585.37 311.3L585.37 319.5M582.47 312.5L588.27 318.3M582.47 318.3L588.27 312.5M586.62 315.4L594.82 315.4M590.72 311.3L590.72 319.5M587.82 312.5L593.62 318.3M587.82 318.3L593.62 312.5M591.97 315.4L600.17 315.4M596.07 311.3L596.07 319.5M593.17 312.5L598.97 318.3M593.17 318.3L598.97 312.5M597.33 315.4L605.53 315.4M601.43 311.3L601.43 319.5M598.53 312.5L604.33 318.3M598.53 318.3L604.33 312.5M602.68 315.4L610.88 315.4M606.78 311.3L606.78 319.5M603.88 312.5L609.68 318.3M603.88 318.3L609.68 312.5" stroke="#000" stroke-width="0.75" stroke-opacity="1"/>
</g>
<rect x="515.78" y="246.6" width="91" height="69.9" fill="none" stroke="#858585" stroke-width="1.1"/>
<text transform="translate(511.38 320.15) scale(0.95 1.15)" font-size="8.6" fill="#555555" text-anchor="end">0</text>
<text transform="translate(511.38 301.48) scale(0.95 1.15)" font-size="8.6" fill="#555555" text-anchor="end">20</text>
<text transform="translate(511.38 282.82) scale(0.95 1.15)" font-size="8.6" fill="#555555" text-anchor="end">40</text>
<text transform="translate(511.38 264.15) scale(0.95 1.15)" font-size="8.6" fill="#555555" text-anchor="end">60</text>
<text x="537.19" y="326.9" font-size="8.6" fill="#555555" text-anchor="middle">5</text>
<text x="563.96" y="326.9" font-size="8.6" fill="#555555" text-anchor="middle">10</text>
<text x="590.72" y="326.9" font-size="8.6" fill="#555555" text-anchor="middle">15</text>
<path d="M513.18 316.5H515.78M513.18 297.83H515.78M513.18 279.17H515.78M513.18 260.5H515.78M537.19 316.5V319.1M563.96 316.5V319.1M590.72 316.5V319.1" stroke="#2b2b2b" stroke-width="1" fill="none"/>
<text transform="translate(498.58 281.55) rotate(-90) scale(0.94 1)" font-size="8.5" fill="#1a1a1a" text-anchor="middle">Probability (%)</text>
<text x="561.08" y="239.6" font-size="11.3" fill="#000" text-anchor="middle">CA (Mod)</text>
<text x="561.28" y="335.6" font-size="8.2" fill="#000" text-anchor="middle">Month</text>
<text x="616" y="143.9" font-size="9.6" fill="#000">Time Period</text>
<path d="M616.8 155.9H628.6" stroke="#000000" stroke-width="1.9"/>
<path d="M618.5 155.9L626.9 155.9M622.7 151.7L622.7 160.1M619.73 152.93L625.67 158.87M619.73 158.87L625.67 152.93" stroke="#000000" stroke-width="0.8" fill="none"/>
<text x="634.5" y="159.1" font-size="8.1" fill="#000">1901-1980</text>
<path d="M616.8 174.9H628.6" stroke="#e2231f" stroke-width="1.9"/>
<path d="M618.5 174.9L626.9 174.9M622.7 170.7L622.7 179.1M619.73 171.93L625.67 177.87M619.73 177.87L625.67 171.93" stroke="#e2231f" stroke-width="0.8" fill="none"/>
<text x="634.5" y="178.1" font-size="8.1" fill="#000">2000-2021</text>
<path d="M616.8 194.7H628.6" stroke="#3f8ec8" stroke-width="1.9"/>
<path d="M618.5 194.7L626.9 194.7M622.7 190.5L622.7 198.9M619.73 191.73L625.67 197.67M619.73 197.67L625.67 191.73" stroke="#3f8ec8" stroke-width="0.8" fill="none"/>
<text x="634.5" y="193.6" font-size="8.1" fill="#000">2000-2021</text>
<text x="634.5" y="201.9" font-size="8.1" fill="#000">counterfactual</text>
</svg></body></html>
